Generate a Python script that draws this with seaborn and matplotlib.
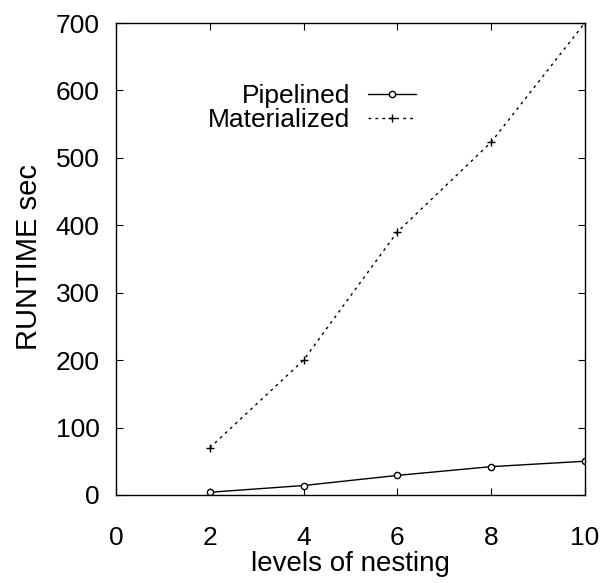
import matplotlib
matplotlib.use("Agg")
import matplotlib.pyplot as plt
import seaborn as sns
import pandas as pd

levels = [2, 4, 6, 8, 10]
pipelined = [4, 14, 29, 42, 50]
materialized = [70, 200, 390, 523, 700]
x_ticks = [0, 2, 4, 6, 8, 10]
y_ticks = [0, 100, 200, 300, 400, 500, 600, 700]

sns.set_style("ticks")
plt.rcParams['font.family'] = ['Liberation Sans', 'DejaVu Sans']
plt.rcParams['xtick.direction'] = 'in'
plt.rcParams['ytick.direction'] = 'in'
plt.rcParams['text.color'] = 'black'
plt.rcParams['axes.labelcolor'] = 'black'

df = pd.DataFrame({"levels": levels, "Pipelined": pipelined, "Materialized": materialized})

fig = plt.figure(figsize=(6.11, 5.83), dpi=100)
ax = fig.add_axes([0.19, 0.151, 0.767, 0.8095])

sns.lineplot(data=df, x="levels", y="Pipelined", ax=ax, color="black", lw=1.0,
             marker="o", markersize=4.5, mfc="white", mec="black", mew=1.0,
             label="Pipelined")
sns.lineplot(data=df, x="levels", y="Materialized", ax=ax, color="black", lw=1.0,
             linestyle=(0, (2, 3)), marker="+", markersize=6, mew=1.0, mec="black",
             label="Materialized")

ax.set_xlim(0, 10)
ax.set_ylim(0, 700)
ax.set_xticks(x_ticks)
ax.set_yticks(y_ticks)
ax.tick_params(axis='both', which='both', direction='in', length=5, width=0.8,
               top=True, right=True, labelsize=19, colors='black')
ax.tick_params(axis='x', pad=22)
ax.tick_params(axis='y', pad=12)
for s in ax.spines.values():
    s.set_visible(True)
    s.set_linewidth(1.0)
    s.set_color('black')

ax.set_xlabel("levels of nesting", fontsize=20, labelpad=1, color='black')
ax.set_ylabel("RUNTIME sec", fontsize=21, color='black')
ax.yaxis.set_label_coords(-0.155, 0.505)

leg = ax.legend(loc="upper right", bbox_to_anchor=(0.679, 0.909), frameon=False,
                markerfirst=False, fontsize=19, handlelength=1.8, handletextpad=0.7,
                labelspacing=0.0, borderpad=0.2)
for t in leg.get_texts():
    t.set_color('black')

fig.savefig("out.png", dpi=100)
